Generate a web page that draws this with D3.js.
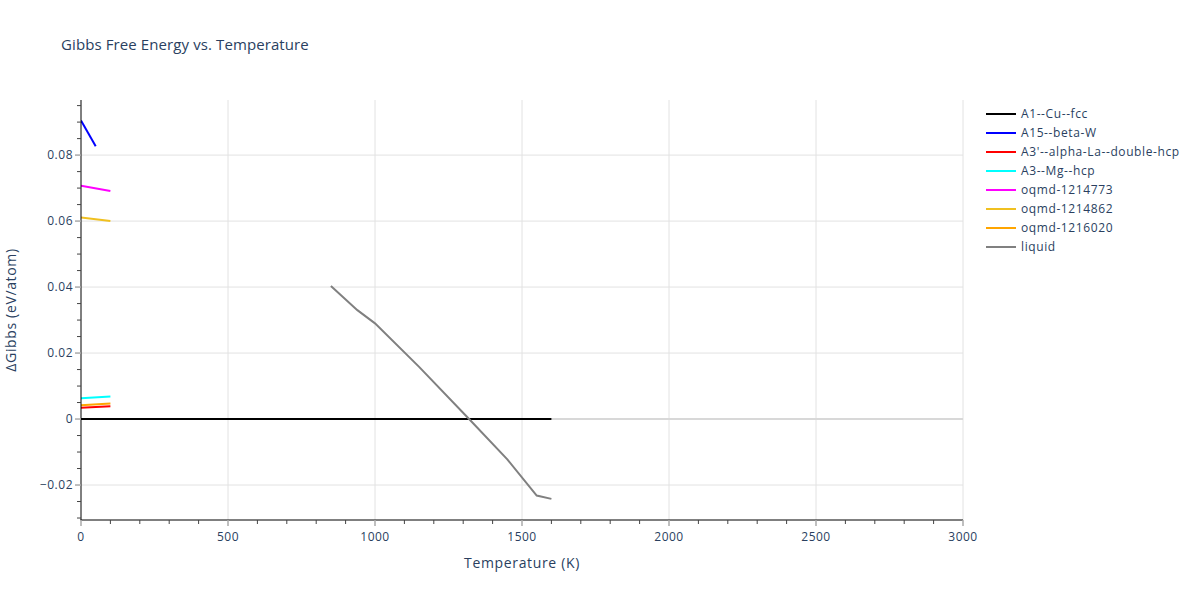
<!DOCTYPE html>
<html><head><meta charset="utf-8">
<script src="https://cdn.jsdelivr.net/npm/d3@7"></script>
<style>body{margin:0;background:#fff}svg{font-family:"Open Sans",verdana,arial,sans-serif}</style>
</head><body>
<svg id="c" width="1200" height="600"></svg>
<script>
const seriesNames = ["A1--Cu--fcc","A15--beta-W","A3'--alpha-La--double-hcp","A3--Mg--hcp","oqmd-1214773","oqmd-1214862","oqmd-1216020","liquid"];
const seriesColors = ["black","blue","red","cyan","magenta","#f0c020","orange","gray"];
const tA1 = [0, 1600];            const gA1 = [0, 0];
const tA15 = [0, 50];             const gA15 = [0.0905, 0.0827];
const tA3p = [0, 100];            const gA3p = [0.0034, 0.0039];
const tA3 = [0, 100];             const gA3 = [0.0063, 0.0068];
const t773 = [0, 100];            const g773 = [0.0707, 0.0691];
const t862 = [0, 100];            const g862 = [0.0611, 0.0600];
const t020 = [0, 100];            const g020 = [0.0042, 0.0047];
const tLiq = [850, 940, 1000, 1150, 1320, 1450, 1550, 1600];
const gLiq = [0.0403, 0.0330, 0.0290, 0.0158, 0.0000, -0.0122, -0.0232, -0.0242];
const xTicks = [0, 500, 1000, 1500, 2000, 2500, 3000];
const yTicks = [-0.02, 0, 0.02, 0.04, 0.06, 0.08];
const yTickLabels = ["\u22120.02", "0", "0.02", "0.04", "0.06", "0.08"];

const seriesT = [tA1, tA15, tA3p, tA3, t773, t862, t020, tLiq];
const seriesG = [gA1, gA15, gA3p, gA3, g773, g862, g020, gLiq];

const svg = d3.select("#c");
const L = 81, R = 963, T = 100, B = 520;
const x = d3.scaleLinear().domain([0, 3000]).range([L, R]);
const y = d3.scaleLinear().domain([-0.0306, 0.0967]).range([B, T]);
const txt = "#2a3f5f";

// grid
svg.append("g").selectAll("line").data(xTicks.slice(1)).join("line")
  .attr("x1", d => x(d)).attr("x2", d => x(d)).attr("y1", T).attr("y2", B)
  .attr("stroke", "#e2e2e2").attr("stroke-width", 1);
svg.append("g").selectAll("line").data(yTicks.filter(d => d !== 0)).join("line")
  .attr("x1", L).attr("x2", R).attr("y1", d => y(d)).attr("y2", d => y(d))
  .attr("stroke", "#e2e2e2").attr("stroke-width", 1);
// zero line
svg.append("line").attr("x1", L).attr("x2", R).attr("y1", y(0)).attr("y2", y(0))
  .attr("stroke", "#d8d8d8").attr("stroke-width", 2);

// series
const line = d3.line().x(d => x(d[0])).y(d => y(d[1]));
svg.append("clipPath").attr("id", "cp").append("rect")
  .attr("x", L).attr("y", T).attr("width", R - L).attr("height", B - T);
const plot = svg.append("g").attr("clip-path", "url(#cp)");
seriesNames.forEach((n, i) => {
  const pts = seriesT[i].map((t, j) => [t, seriesG[i][j]]);
  plot.append("path").attr("d", line(pts)).attr("fill", "none")
    .attr("stroke", seriesColors[i]).attr("stroke-width", 2);
});

// axes lines
svg.append("line").attr("x1", L).attr("x2", L).attr("y1", T).attr("y2", B).attr("stroke", "#000").attr("stroke-width", 1);
svg.append("line").attr("x1", L - 0.5).attr("x2", R).attr("y1", B).attr("y2", B).attr("stroke", "#000").attr("stroke-width", 1);

// minor ticks
const xMinor = d3.range(0, 3001, 100).filter(d => d % 500 !== 0);
svg.append("g").selectAll("line").data(xMinor).join("line")
  .attr("x1", d => x(d)).attr("x2", d => x(d)).attr("y1", B).attr("y2", B + 4)
  .attr("stroke", "#444").attr("stroke-width", 1);
const yMinor = d3.range(-30, 97, 5).map(d => d / 1000).filter(d => Math.round(d * 1000) % 20 !== 0);
svg.append("g").selectAll("line").data(yMinor).join("line")
  .attr("x1", L - 4).attr("x2", L).attr("y1", d => y(d)).attr("y2", d => y(d))
  .attr("stroke", "#444").attr("stroke-width", 1);
// major ticks
svg.append("g").selectAll("line").data(xTicks).join("line")
  .attr("x1", d => x(d)).attr("x2", d => x(d)).attr("y1", B).attr("y2", B + 6)
  .attr("stroke", "#aaa").attr("stroke-width", 1.5);
svg.append("g").selectAll("line").data(yTicks).join("line")
  .attr("x1", L - 6).attr("x2", L).attr("y1", d => y(d)).attr("y2", d => y(d))
  .attr("stroke", "#aaa").attr("stroke-width", 1.5);

// tick labels
svg.append("g").selectAll("text").data(xTicks).join("text")
  .attr("x", d => x(d)).attr("y", B + 21).attr("text-anchor", "middle")
  .attr("font-size", 12).attr("letter-spacing", "0.5px").attr("fill", txt).text(d => d);
svg.append("g").selectAll("text").data(yTicks).join("text")
  .attr("x", L - 8).attr("y", d => y(d) + 4).attr("text-anchor", "end")
  .attr("font-size", 12).attr("letter-spacing", "0.5px").attr("fill", txt).text((d, i) => yTickLabels[i]);

// axis titles
svg.append("text").attr("x", (L + R) / 2).attr("y", 568).attr("text-anchor", "middle")
  .attr("font-size", 14).attr("letter-spacing", "0.65px").attr("fill", txt).text("Temperature (K)");
svg.append("text").attr("transform", `translate(16,${(T + B) / 2}) rotate(-90)`)
  .attr("text-anchor", "middle").attr("font-size", 14).attr("letter-spacing", "0.65px").attr("fill", txt).text("\u0394Gibbs (eV/atom)");

// title
svg.append("text").attr("x", 61).attr("y", 50).attr("font-size", 15).attr("letter-spacing", "0.1px").attr("fill", txt)
  .text("Gibbs Free Energy vs. Temperature");

// legend
const lg = svg.append("g");
seriesNames.forEach((n, i) => {
  const yy = 114 + i * 19;
  lg.append("line").attr("x1", 986).attr("x2", 1016).attr("y1", yy).attr("y2", yy)
    .attr("stroke", seriesColors[i]).attr("stroke-width", 2);
  lg.append("text").attr("x", 1021).attr("y", yy + 4).attr("font-size", 12).attr("letter-spacing", "0.6px").attr("fill", txt).text(n);
});
</script>
</body></html>
